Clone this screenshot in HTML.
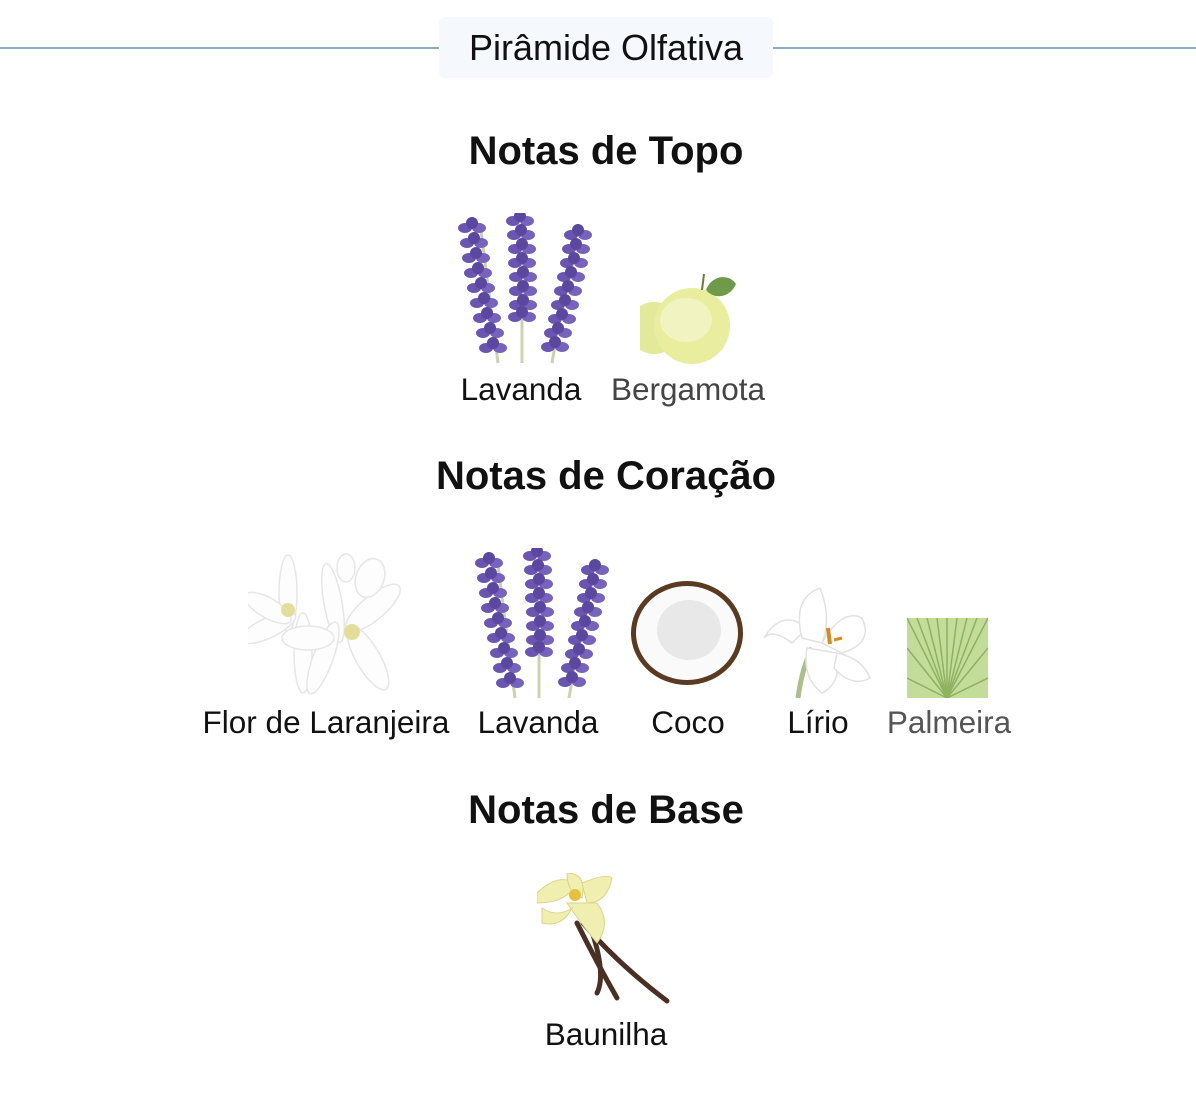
<!DOCTYPE html>
<html><head><meta charset="utf-8">
<style>
html,body{margin:0;padding:0;background:#fff;}
body{width:1196px;height:1108px;position:relative;overflow:hidden;font-family:"Liberation Sans",Arial,sans-serif;color:#111;}
.line{position:absolute;left:0;width:1196px;top:47px;height:2px;background:#8aa9c5;}
.box{position:absolute;left:439px;top:17px;width:334px;height:61px;background:#f5f8fc;border-radius:6px;font-size:36px;line-height:61px;text-align:center;color:#111;}
.h{position:absolute;left:0;width:1212px;text-align:center;font-weight:bold;font-size:40px;}
.lbl{position:absolute;font-size:31.5px;text-align:center;width:280px;margin-left:-140px;}
svg{position:absolute;}
</style></head><body>
<svg width="0" height="0" style="position:absolute">
<defs>
<g id="spike">
<ellipse cx="-7" cy="0" rx="7" ry="5" fill="#6a55b0"/><ellipse cx="7" cy="0" rx="7" ry="5" fill="#7763bd"/>
<ellipse cx="0" cy="-5" rx="6" ry="6" fill="#5b479f"/>
</g>
<g id="lav">
<line x1="30" y1="10" x2="48" y2="150" stroke="#c9d3b0" stroke-width="3"/>
<line x1="72" y1="0" x2="72" y2="150" stroke="#c9d3b0" stroke-width="3"/>
<line x1="125" y1="15" x2="102" y2="150" stroke="#c9d3b0" stroke-width="3"/>
<use href="#spike" x="22" y="15"/><use href="#spike" x="24" y="30"/><use href="#spike" x="26" y="45"/><use href="#spike" x="28" y="60"/><use href="#spike" x="31" y="75"/><use href="#spike" x="34" y="90"/><use href="#spike" x="37" y="105"/><use href="#spike" x="40" y="120"/><use href="#spike" x="43" y="135"/>
<use href="#spike" x="70" y="8"/><use href="#spike" x="71" y="22"/><use href="#spike" x="72" y="36"/><use href="#spike" x="72" y="50"/><use href="#spike" x="73" y="64"/><use href="#spike" x="73" y="78"/><use href="#spike" x="73" y="92"/><use href="#spike" x="72" y="104"/>
<use href="#spike" x="128" y="22"/><use href="#spike" x="126" y="36"/><use href="#spike" x="124" y="50"/><use href="#spike" x="121" y="64"/><use href="#spike" x="118" y="78"/><use href="#spike" x="115" y="92"/><use href="#spike" x="112" y="106"/><use href="#spike" x="108" y="120"/><use href="#spike" x="105" y="134"/>
</g>
</defs>
</svg>
<div class="line"></div>
<div class="box">Pirâmide Olfativa</div>

<div class="h" style="top:129px">Notas de Topo</div>
<svg style="left:450px;top:213px" width="142" height="152" viewBox="0 0 142 152"><use href="#lav"/></svg>
<svg style="left:640px;top:270px" width="96" height="96" viewBox="0 0 96 96">
<circle cx="14" cy="58" r="26" fill="#e2ea9a"/>
<circle cx="52" cy="56" r="38" fill="#e8ee9e"/>
<ellipse cx="46" cy="50" rx="26" ry="22" fill="#f1f4c0"/>
<path d="M66 20 C72 4 90 4 96 14 C90 28 74 30 66 20Z" fill="#6f9a4a"/>
<line x1="62" y1="20" x2="64" y2="4" stroke="#6a7a3a" stroke-width="2"/>
</svg>
<div class="lbl" style="left:521px;top:371px">Lavanda</div>
<div class="lbl" style="left:688px;top:371px;color:#444">Bergamota</div>

<div class="h" style="top:454px">Notas de Coração</div>
<svg style="left:248px;top:548px" width="158" height="150" viewBox="0 0 158 150">
<g fill="#fdfdfd" stroke="#e6e6e6" stroke-width="1.5">
<ellipse cx="40" cy="45" rx="9" ry="38"/><ellipse cx="20" cy="80" rx="30" ry="10" transform="rotate(-25 20 80)"/>
<ellipse cx="55" cy="105" rx="9" ry="40"/><ellipse cx="20" cy="60" rx="26" ry="10" transform="rotate(30 20 60)"/>
<ellipse cx="85" cy="55" rx="9" ry="40" transform="rotate(-10 85 55)"/><ellipse cx="125" cy="60" rx="34" ry="12" transform="rotate(-40 125 60)"/>
<ellipse cx="75" cy="110" rx="10" ry="38" transform="rotate(20 75 110)"/><ellipse cx="120" cy="110" rx="12" ry="36" transform="rotate(-30 120 110)"/>
<ellipse cx="60" cy="90" rx="26" ry="12"/>
<ellipse cx="98" cy="20" rx="9" ry="14"/><ellipse cx="122" cy="30" rx="14" ry="20" transform="rotate(20 122 30)"/>
</g>
<circle cx="40" cy="62" r="7" fill="#e4dd9a"/><circle cx="104" cy="84" r="8" fill="#e4dd9a"/>
</svg>
<svg style="left:467px;top:548px" width="142" height="152" viewBox="0 0 142 152"><use href="#lav"/></svg>
<svg style="left:625px;top:575px" width="124" height="118" viewBox="0 0 124 118">
<ellipse cx="62" cy="58" rx="56" ry="52" fill="#5b3a22"/>
<ellipse cx="62" cy="58" rx="51" ry="47" fill="#fafafa"/>
<ellipse cx="64" cy="55" rx="32" ry="30" fill="#e8e8e8"/>
</svg>
<svg style="left:762px;top:588px" width="112" height="110" viewBox="0 0 112 110">
<path d="M36 110 Q40 80 50 60" stroke="#a9c08a" stroke-width="5" fill="none"/>
<g fill="#fff" stroke="#e2e2e2" stroke-width="1.5">
<path d="M30 55 Q10 40 2 50 Q20 20 45 40Z"/>
<path d="M40 50 Q30 10 58 0 Q70 30 60 55Z"/>
<path d="M60 55 Q80 20 100 30 Q112 55 80 65Z"/>
<path d="M45 60 Q40 90 60 105 Q80 95 75 65Z"/>
<path d="M75 65 Q100 70 108 90 Q90 100 72 80Z"/>
</g>
<path d="M66 40 L68 56" stroke="#d68a20" stroke-width="4"/>
<path d="M72 52 L80 50" stroke="#d68a20" stroke-width="3"/>
</svg>
<svg style="left:907px;top:618px" width="81" height="80" viewBox="0 0 81 80">
<rect width="81" height="80" fill="#c4dc9a"/>
<g stroke="#8db260" stroke-width="1.5">
<line x1="40" y1="80" x2="0" y2="0"/><line x1="40" y1="80" x2="10" y2="0"/><line x1="40" y1="80" x2="20" y2="0"/><line x1="40" y1="80" x2="30" y2="0"/><line x1="40" y1="80" x2="40" y2="0"/><line x1="40" y1="80" x2="50" y2="0"/><line x1="40" y1="80" x2="60" y2="0"/><line x1="40" y1="80" x2="70" y2="0"/><line x1="40" y1="80" x2="81" y2="0"/><line x1="40" y1="80" x2="0" y2="30"/><line x1="40" y1="80" x2="81" y2="30"/><line x1="40" y1="80" x2="0" y2="60"/><line x1="40" y1="80" x2="81" y2="60"/>
</g>
</svg>
<div class="lbl" style="left:326px;top:704px">Flor de Laranjeira</div>
<div class="lbl" style="left:538px;top:704px">Lavanda</div>
<div class="lbl" style="left:688px;top:704px">Coco</div>
<div class="lbl" style="left:818px;top:704px">Lírio</div>
<div class="lbl" style="left:949px;top:704px;color:#555">Palmeira</div>

<div class="h" style="top:788px">Notas de Base</div>
<svg style="left:537px;top:873px" width="136" height="136" viewBox="0 0 136 136">
<g stroke="#4a3024" stroke-width="5" fill="none" stroke-linecap="round">
<path d="M40 50 Q60 90 80 125"/><path d="M46 50 Q80 90 130 128"/><path d="M52 50 Q70 100 60 120"/>
</g>
<g fill="#f1efb0" stroke="#d9d68a" stroke-width="1">
<path d="M0 20 Q20 0 40 10 Q30 30 0 30Z"/>
<path d="M30 0 Q50 0 45 25 Q30 20 30 0Z"/>
<path d="M45 10 Q70 0 75 5 Q70 30 50 30Z"/>
<path d="M30 30 Q40 45 60 70 Q75 50 60 30Z"/>
<path d="M5 35 Q20 45 35 35 Q25 55 5 50Z"/>
</g>
<circle cx="38" cy="22" r="6" fill="#e8c040"/>
</svg>
<div class="lbl" style="left:606px;top:1016px">Baunilha</div>
</body></html>
